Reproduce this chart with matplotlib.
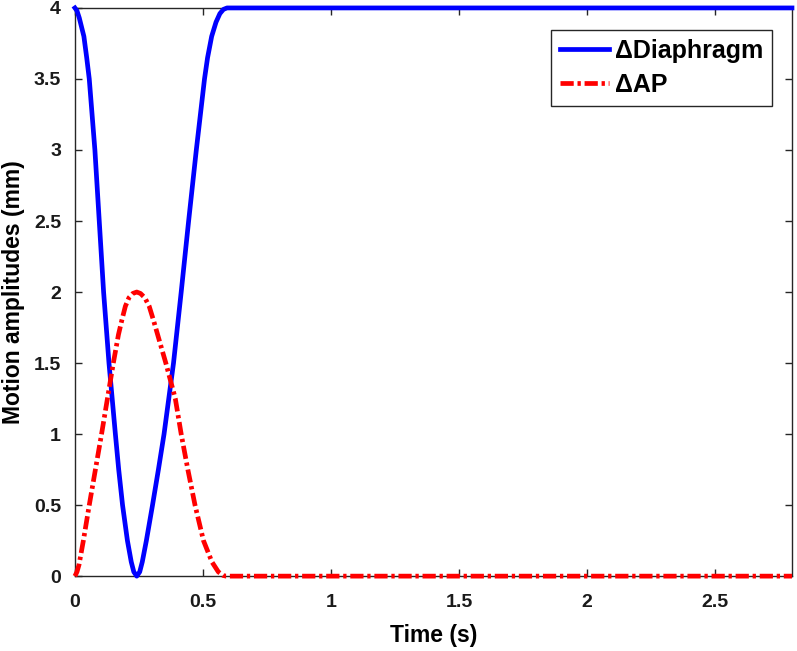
import numpy as np
import matplotlib
matplotlib.use("Agg")
from matplotlib import pyplot as plt

# values
diaph_t = [0, 0.008, 0.017, 0.035, 0.046, 0.056, 0.067, 0.078, 0.095, 0.112, 0.133, 0.158,
           0.171, 0.186, 0.205, 0.220, 0.230, 0.2415,
           0.253, 0.263, 0.279, 0.303, 0.326, 0.348, 0.385, 0.415, 0.444, 0.474, 0.506,
           0.518, 0.534, 0.551, 0.566, 0.58, 0.594, 2.8]
diaph_v = [4, 3.98, 3.93, 3.8, 3.65, 3.5, 3.25, 3.0, 2.5, 2.0, 1.5, 1.0,
           0.75, 0.5, 0.25, 0.1, 0.03, 0.0,
           0.03, 0.1, 0.25, 0.5, 0.75, 1.0, 1.5, 2.0, 2.5, 3.0, 3.5,
           3.65, 3.8, 3.9, 3.96, 3.99, 4, 4]

ap_t = [0, 0.008, 0.016, 0.033, 0.056, 0.08, 0.104, 0.127, 0.150, 0.170, 0.183, 0.197,
        0.211, 0.226, 0.2415, 0.256, 0.273, 0.29, 0.307, 0.323, 0.355, 0.392, 0.415,
        0.441, 0.469, 0.502, 0.535, 0.56, 0.578, 0.59, 2.8]
ap_v = [0, 0.03, 0.08, 0.25, 0.5, 0.75, 1.0, 1.25, 1.5, 1.7, 1.8, 1.9,
        1.96, 1.99, 2.0, 1.99, 1.96, 1.9, 1.8, 1.7, 1.5, 1.25, 1.0,
        0.75, 0.5, 0.25, 0.1, 0.03, 0.005, 0, 0]

plt.rcParams['font.family'] = ['Liberation Sans', 'DejaVu Sans']
plt.rcParams['font.weight'] = 'bold'

fig = plt.figure(figsize=(7.97, 6.51), dpi=100)
ax = fig.add_axes([0.094, 0.115, 0.8997, 0.8728])

ax.plot(diaph_t, diaph_v, color='#0000ff', lw=3.4, label='\u0394Diaphragm',
        clip_on=False, zorder=3)
ax.plot(ap_t, ap_v, color='#ff0000', lw=3.4, dashes=(2.8, 0.8, 0.7, 0.8),
        dash_capstyle='butt', label='\u0394AP', clip_on=False, zorder=3)

ax.set_xlim(0, 2.8)
ax.set_ylim(0, 4)
ax.set_xticks([0, 0.5, 1, 1.5, 2, 2.5])
ax.set_xticklabels(['0', '0.5', '1', '1.5', '2', '2.5'])
ax.set_yticks([0, 0.5, 1, 1.5, 2, 2.5, 3, 3.5, 4])
ax.set_yticklabels(['0', '0.5', '1', '1.5', '2', '2.5', '3', '3.5', '4'])
ax.tick_params(direction='in', top=True, right=True, length=5, width=1,
               labelsize=14, colors='#262626', labelcolor='#1a1a1a')
ax.tick_params(axis='x', pad=13)
ax.tick_params(axis='y', pad=10)
for s in ax.spines.values():
    s.set_color('#262626')
    s.set_linewidth(1)

ax.set_xlabel('Time (s)', fontsize=16.5, fontweight='bold', labelpad=9)
ax.set_ylabel('Motion amplitudes (mm)', fontsize=16.5, fontweight='bold', labelpad=6)

leg = ax.legend(loc='upper right', bbox_to_anchor=(0.972, 0.961), fontsize=18,
                fancybox=False, framealpha=1, edgecolor='#262626',
                handlelength=1.95, handletextpad=0.25, borderpad=0.35, labelspacing=0.4,
                borderaxespad=0)
leg.get_frame().set_linewidth(1)
leg.set_zorder(5)

plt.savefig('out.png', dpi=100)
